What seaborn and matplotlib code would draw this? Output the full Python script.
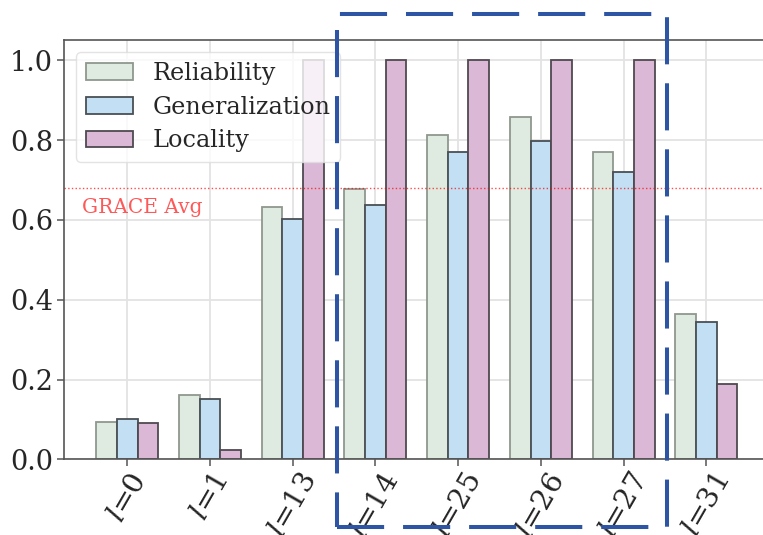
import matplotlib
matplotlib.use("Agg")
import matplotlib.pyplot as plt
from matplotlib.patches import Rectangle
import seaborn as sns
import pandas as pd

layers = ["$l$=0", "$l$=1", "$l$=13", "$l$=14", "$l$=25", "$l$=26", "$l$=27", "$l$=31"]
reliability = [0.094, 0.161, 0.633, 0.677, 0.814, 0.857, 0.771, 0.364]
generalization = [0.101, 0.150, 0.603, 0.637, 0.770, 0.798, 0.721, 0.344]
locality = [0.092, 0.023, 1.0, 1.0, 1.0, 1.0, 1.0, 0.189]
metrics = ["Reliability", "Generalization", "Locality"]
colors = ["#dfebe0", "#c3dff3", "#dbb8d6"]
edge_colors = ["#8f978f", "#4a4f55", "#4f4a50"]
grace_avg = 0.680

sns.set_theme(style="white")
plt.rcParams["font.family"] = ["DejaVu Serif"]
plt.rcParams["mathtext.fontset"] = "dejavuserif"

rows = []
for m, vals in zip(metrics, [reliability, generalization, locality]):
    for lay, v in zip(layers, vals):
        rows.append({"layer": lay, "metric": m, "value": v})
df = pd.DataFrame(rows)

fig = plt.figure(figsize=(7.63, 5.35), dpi=100)
ax = fig.add_axes([64 / 763, 1 - 459.3 / 535, (770 - 64) / 763, (459.3 - 40.5) / 535])

sns.barplot(data=df, x="layer", y="value", hue="metric", order=layers,
            hue_order=metrics, palette=colors, width=0.75, ax=ax,
            edgecolor="#555555", linewidth=1.3, saturation=1)

for cont, ec in zip(ax.containers, edge_colors):
    for p in cont:
        p.set_edgecolor(ec)

ax.set_xlim(-0.765, 7.77)
ax.set_ylim(0, 1.05)
ax.set_yticks([0.0, 0.2, 0.4, 0.6, 0.8, 1.0])
ax.set_yticklabels(["0.0", "0.2", "0.4", "0.6", "0.8", "1.0"])
ax.set_xlabel("")
ax.set_ylabel("")
ax.set_axisbelow(True)
ax.grid(True, color="#e3e3e3", linewidth=1.3)

for s in ["left", "top", "bottom"]:
    ax.spines[s].set_color("#555555")
    ax.spines[s].set_linewidth(1.2)
ax.spines["right"].set_visible(False)

ax.tick_params(axis="both", which="both", direction="out", length=5, width=1.1,
               color="#555555", labelsize=19.5, pad=3, bottom=True, left=True)
ax.tick_params(axis="x", labelsize=20.5, pad=2)
plt.setp(ax.get_xticklabels(), rotation=60, ha="center", va="top")

ax.axhline(grace_avg, color="red", linestyle=":", linewidth=1.0, alpha=0.7)
ax.text(-0.545, grace_avg - 0.026, "GRACE Avg", color="#ff3b3b", alpha=0.85,
        fontsize=14.5, va="top", ha="left")

handles, labels = ax.get_legend_handles_labels()
for h, ec in zip(handles, edge_colors):
    h.set_edgecolor(ec)
    h.set_linewidth(1.3)
ax.legend(handles, labels, loc="upper left", fontsize=17.2, framealpha=0.8,
          borderaxespad=0.5, handlelength=2.0, labelspacing=0.45,
          edgecolor="#dddddd")

rect = Rectangle((337 / 763, 1 - 527 / 535), (667 - 337) / 763, (527 - 14) / 535,
                 transform=fig.transFigure, fill=False, edgecolor="#2e55a4",
                 linewidth=2.9, linestyle=(0, (11.7, 4.7)), clip_on=False, zorder=10)
fig.patches.append(rect)

fig.savefig("out.png", dpi=100)
